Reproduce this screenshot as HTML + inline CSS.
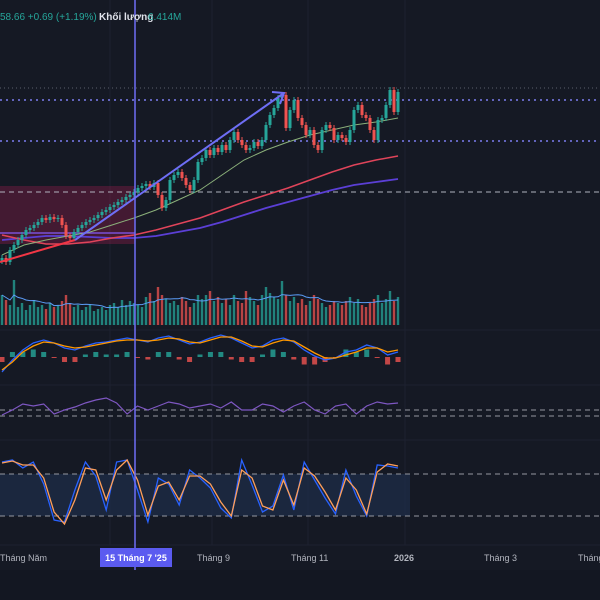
<!DOCTYPE html>
<html><head><meta charset="utf-8"><style>
html,body{margin:0;padding:0;background:#151924;overflow:hidden}
svg{display:block;font-family:"Liberation Sans","Noto Sans CJK SC",sans-serif}
</style></head><body>
<svg id="c" width="600" height="600" viewBox="0 0 600 600">
<rect width="600" height="600" fill="#151924"/>
<rect y="570" width="600" height="30" fill="#131722"/>
<g id="grid"></g>
<rect x="0" y="186" width="135" height="58" fill="#e91e63" fill-opacity="0.22"/>
<line x1="0" y1="233" x2="135" y2="233" stroke="#7b4fd6" stroke-width="1.5"/>
<line x1="0" y1="88" x2="600" y2="88" stroke="#5a5e6c" stroke-dasharray="1,3"/>
<line x1="0" y1="100" x2="600" y2="100" stroke="#7d7df0" stroke-width="1.5" stroke-dasharray="2,4"/>
<line x1="0" y1="141" x2="600" y2="141" stroke="#7d7df0" stroke-width="1.5" stroke-dasharray="2,4"/>
<line x1="0" y1="192" x2="600" y2="192" stroke="#b0b3be" stroke-dasharray="5,4"/>
<rect x="0" y="474" width="410" height="42" fill="#1e2d4a" fill-opacity="0.7"/>
<line x1="0" y1="474" x2="600" y2="474" stroke="#9598a1" stroke-dasharray="5,4"/>
<line x1="0" y1="516" x2="600" y2="516" stroke="#9598a1" stroke-dasharray="5,4"/>
<line x1="0" y1="410" x2="600" y2="410" stroke="#9598a1" stroke-dasharray="5,4"/>
<line x1="0" y1="416" x2="600" y2="416" stroke="#9598a1" stroke-dasharray="5,4"/>
<g id="marks"></g>
<line x1="0" y1="262" x2="75" y2="240" stroke="#f23645" stroke-width="2"/>
<line x1="75" y1="240" x2="284" y2="93" stroke="#6e6ef5" stroke-width="2"/>
<polyline points="272,92 284,93 280,104" fill="none" stroke="#6e6ef5" stroke-width="2"/>
<line x1="135" y1="0" x2="135" y2="570" stroke="#6e6ef5" stroke-width="1.5"/>
<text x="0" y="20" font-size="10" fill="#26a69a">58.66 +0.69 (+1.19%)</text>
<text x="99" y="20" font-size="10" fill="#e0e3eb" font-weight="bold">Khối lượng</text>
<text x="148" y="20" font-size="10" fill="#26a69a">6.414M</text>
<g font-size="9" fill="#b2b5be">
<text x="0" y="561">Tháng Năm</text>
<text x="197" y="561">Tháng 9</text>
<text x="291" y="561">Tháng 11</text>
<text x="394" y="561" font-weight="bold">2026</text>
<text x="484" y="561">Tháng 3</text>
<text x="578" y="561">Tháng</text>
</g>
<rect x="100" y="548" width="72" height="19" fill="#5b5bf0"/>
<text x="136" y="561" font-size="9" fill="#fff" text-anchor="middle" font-weight="bold">15 Tháng 7 '25</text>
</svg>
<script>
const closesY=[258,262,250,245,240,235,230,228,225,222,218,220,217,219,218,225,236,238,232,228,225,222,220,218,215,212,210,207,205,202,200,197,195,192,188,186,184,187,183,195,208,200,180,175,172,178,185,190,180,162,158,150,155,148,152,145,150,140,132,140,145,150,148,142,146,140,125,115,108,98,95,128,110,100,118,125,135,130,145,150,130,125,128,140,135,138,142,130,110,105,115,118,130,140,120,118,105,90,112,92];
const volumes=[30,25,20,45,18,22,15,20,25,18,20,16,22,18,20,24,30,22,18,20,15,18,20,14,16,18,15,20,22,18,25,20,24,22,20,18,28,32,24,38,30,26,22,24,20,28,24,18,22,30,26,30,34,24,28,22,26,20,30,24,22,34,28,24,20,30,38,32,28,26,44,30,24,28,22,26,20,24,30,26,22,18,20,24,22,20,24,28,22,26,20,18,22,26,30,22,26,34,24,28];
const macdA=[372,360,350,343,340,343,348,350,346,343,342,340,338,340,342,338,336,340,344,342,338,335,338,343,348,346,340,338,342,350,356,360,358,352,350,345,348,355,352];
const macdB=[370,362,352,346,342,343,346,348,347,345,343,341,340,340,341,340,338,339,342,343,340,337,337,341,346,347,343,340,341,347,353,358,358,355,352,348,348,352,350];
const rsiY=[415,410,404,406,404,414,410,407,403,400,398,403,414,406,410,406,402,404,408,406,404,408,402,410,410,404,406,412,406,402,410,414,406,404,414,406,402,404,403];
const stochK=[462,460,468,462,484,520,522,490,462,476,510,462,460,490,522,478,484,505,470,478,488,508,518,460,485,512,506,475,510,462,480,498,514,470,496,516,465,466,468];
const stochD=[463,461,465,465,478,512,524,500,468,470,500,470,460,480,515,486,482,500,476,476,484,502,516,470,478,506,510,480,505,468,476,492,510,478,490,514,472,464,466];
const maGreen=[255,245,240,236,232,225,218,210,200,190,175,160,150,142,135,130,125,122,118];
const maRed=[235,240,244,244,242,238,235,230,224,218,210,202,195,188,180,172,165,160,156];
const maPurple=[240,238,236,236,237,238,238,236,232,228,222,215,208,202,196,190,185,182,179];
const NS="http://www.w3.org/2000/svg";
const xScale=i=>2+i*4;
const yPrice=p=>300-p;
const toPrice=y=>300-y;
const g=document.getElementById('marks');
function el(t,a){const e=document.createElementNS(NS,t);for(const k in a)e.setAttribute(k,a[k]);g.appendChild(e);return e;}
const grid=document.getElementById('grid');
[110,212,308,405].forEach(x=>{const l=document.createElementNS(NS,'line');l.setAttribute('x1',x);l.setAttribute('x2',x);l.setAttribute('y1',0);l.setAttribute('y2',545);l.setAttribute('stroke','#1d2130');


grid.appendChild(l);});
[330,385,440,545].forEach(y=>{const l=document.createElementNS(NS,'line');l.setAttribute('x1',0);l.setAttribute('x2',600);l.setAttribute('y1',y);l.setAttribute('y2',y);l.setAttribute('stroke','#1d2130');


grid.appendChild(l);});
function sparseLine(arr,n,col,w,name){const pts=arr.map((v,i)=>(i*(n-1)/(arr.length-1)*4+2).toFixed(1)+','+v).join(' ');
const p=el('polyline',{points:pts,fill:'none',stroke:col,'stroke-width':w});

}
sparseLine(maPurple,100,'#5b3fd6',1.8,'ma-200');
sparseLine(maRed,100,'#e0445a',1.5,'ma-100');
sparseLine(maGreen,100,'#8bb07a',1,'ma-50');
closesY.forEach((cy,i)=>{const c=toPrice(cy);const o=i?toPrice(closesY[i-1]):c-3;const up=c>=o;const col=up?'#26a69a':'#ef5350';const x=xScale(i);
const hi=Math.max(o,c)+3,lo=Math.min(o,c)-3;
const w=el('line',{x1:x,x2:x,y1:yPrice(hi),y2:yPrice(lo),stroke:col,'stroke-width':1});


const top=yPrice(Math.max(o,c));const h=Math.max(1,Math.abs(o-c));
const b=el('rect',{x:x-1.5,y:top,width:3,height:h,fill:col});


const v=volumes[i];const vb=el('rect',{x:x-1.2,y:325-v,width:2.4,height:v,fill:col,'fill-opacity':0.75});

});
const vma=volumes.map((v,i)=>{let s=0,n=0;for(let j=Math.max(0,i-9);j<=i;j++){s+=volumes[j];n++;}return xScale(i)+','+(325-s/n);}).join(' ');
const vm=el('polyline',{points:vma,fill:'none',stroke:'#5b9cf6','stroke-width':1});


macdA.forEach((a,i)=>{const d=macdB[i]-a;const x=2+i*(99*4/(macdA.length-1));const col=d>0?'#26a69a':'#ef5350';
const r=el('rect',{x:x-2.5,y:d>0?357-d*2.5:357,width:5,height:Math.max(1,Math.abs(d)*2.5),fill:col,'fill-opacity':0.8});

});
sparseLine(macdA,100,'#2962ff',1.3,'macd-line');
sparseLine(macdB,100,'#ff9800',1.3,'signal-line');
sparseLine(rsiY,100,'#7e57c2',1.2,'rsi-line');
sparseLine(stochK,100,'#2962ff',1.3,'stoch-k');
sparseLine(stochD,100,'#ff9f5a',1.3,'stoch-d');
</script>
</body></html>
